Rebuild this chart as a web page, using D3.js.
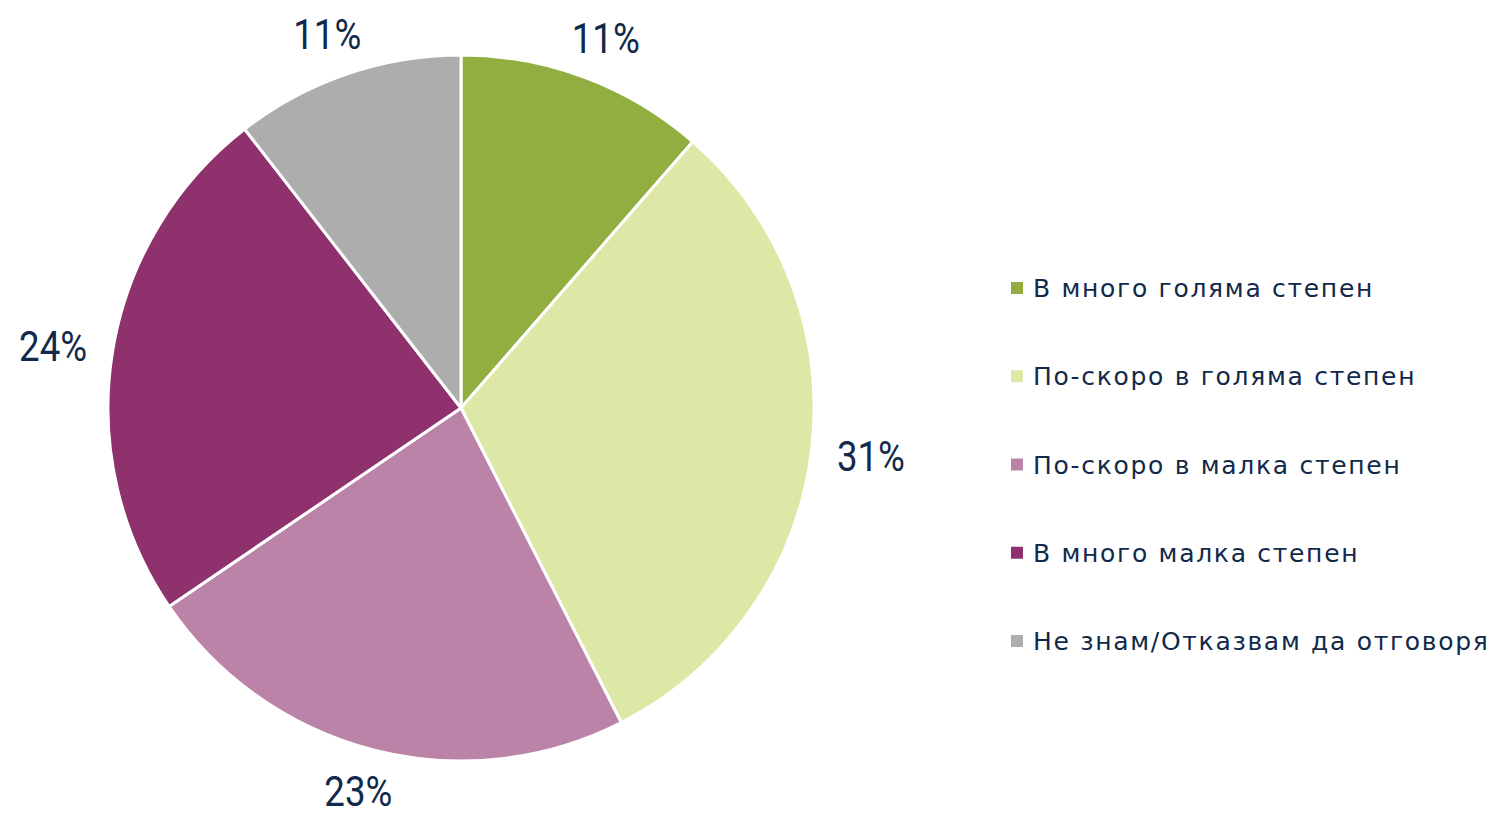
<!DOCTYPE html>
<html>
<head>
    <meta charset='utf-8'>
    <title>Pie</title>
    <style>
        body { margin: 0; background: #fff; }
    </style>
</head>
<body>
<svg width="1497" height="815"></svg>
<script src="https://d3js.org/d3.v7.min.js"></script>
<script>
    const categories = [
        "В много голяма степен",
        "По-скоро в голяма степен",
        "По-скоро в малка степен",
        "В много малка степен",
        "Не знам/Отказвам да отговоря"
    ]
    const values = [11.4, 31.1, 23.0, 24.0, 10.5]
    const labels = ["11%", "31%", "23%", "24%", "11%"]
    const colors = ["#92ae40", "#dde8a7", "#bc83a8", "#8e316c", "#adadad"]

    const cx = 461, cy = 408, radius = 353
    const gap = 26
    const textColor = "#11294a"
    const labelFont = "Roboto, 'DejaVu Sans Condensed', sans-serif"
    const legendFont = "'DejaVu Sans', sans-serif"

    const data = categories.map((name, i) => ({name, value: values[i], label: labels[i], color: colors[i]}))

    const svg = d3.select("svg")

    const pie = d3.pie()
        .sort(null)
        .value(d => d.value)

    const arc = d3.arc()
        .innerRadius(0)
        .outerRadius(radius)

    const g = svg.append("g")
        .attr("transform", `translate(${cx},${cy})`)

    g.selectAll("path")
        .data(pie(data))
        .join("path")
        .attr("d", arc)
        .attr("fill", d => d.data.color)
        .attr("stroke", "#fff")
        .attr("stroke-width", 3)
        .attr("stroke-linejoin", "round")

    // outside-end labels: box edge sits a fixed gap beyond the rim
    g.selectAll("text")
        .data(pie(data))
        .join("text")
        .attr("text-anchor", "middle")
        .attr("dy", "0.36em")
        .attr("font-family", labelFont)
        .attr("font-size", 42)
        .attr("textLength", 68)
        .attr("lengthAdjust", "spacingAndGlyphs")
        .attr("fill", textColor)
        .text(d => d.data.label)
        .each(function (d) {
            const a = (d.startAngle + d.endAngle) / 2
            const sx = Math.sin(a), sy = -Math.cos(a)
            const x = (radius + gap) * sx + sx * 34
            const y = (radius + gap) * sy + sy * 16
            d3.select(this).attr("x", x).attr("y", y)
        })

    // legend
    const legendY = d3.scalePoint()
        .domain(categories)
        .range([288, 641])

    const legend = svg.append("g")
        .selectAll("g")
        .data(data)
        .join("g")
        .attr("transform", d => `translate(1011,${legendY(d.name)})`)

    legend.append("rect")
        .attr("x", 0)
        .attr("y", -6)
        .attr("width", 12)
        .attr("height", 12)
        .attr("fill", d => d.color)

    legend.append("text")
        .attr("x", 22)
        .attr("dy", "0.36em")
        .attr("font-family", legendFont)
        .attr("font-size", 25)
        .attr("letter-spacing", 1.7)
        .attr("fill", textColor)
        .text(d => d.name)
</script>
</body>
</html>
